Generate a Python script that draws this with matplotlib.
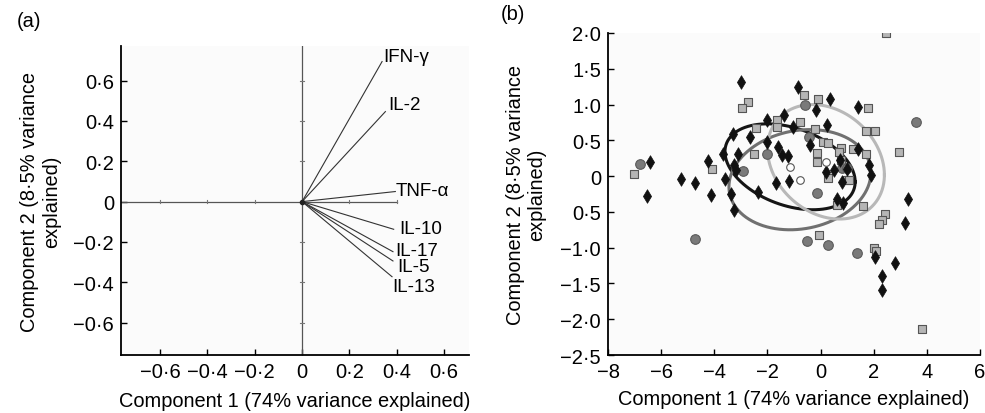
import numpy as np
import matplotlib.pyplot as plt

plt.rcParams['font.family'] = ['Liberation Sans', 'DejaVu Sans']

# Panel (a): loadings
cytokines = ['IFN-γ', 'IL-2', 'TNF-α', 'IL-10', 'IL-17', 'IL-5', 'IL-13']
load_c1 = [0.338, 0.352, 0.394, 0.387, 0.384, 0.384, 0.380]
load_c2 = [0.694, 0.446, 0.050, -0.137, -0.248, -0.294, -0.372]
# where the names sit
label_x = [0.342, 0.364, 0.397, 0.409, 0.392, 0.401, 0.383]
label_y = [0.72, 0.48, 0.055, -0.134, -0.243, -0.322, -0.421]

# Panel (b): scores, three groups
diam_x = [-3.0, -0.84, 0.35, 1.42, -0.19, -1.37, -2.0, 0.25, -3.29, -2.66, -1.03, -2.0,
          -1.62, -0.4, -1.47, -1.22, -3.69, -3.1, 1.42, -6.43, -4.23, -3.26, 1.82, 1.89,
          -5.24, -4.71, -3.6, -1.69, -1.19, 0.2, 0.5, 0.82, -6.53, -4.13, -3.39, -2.37,
          0.63, 0.83, -3.26, 3.27, 3.18, 2.05, 2.8, 2.3, 2.3, 0.73, 1.0, -3.2]
diam_y = [1.31, 1.24, 1.08, 0.96, 0.92, 0.86, 0.79, 0.72, 0.59, 0.55, 0.68, 0.47,
          0.40, 0.44, 0.30, 0.28, 0.31, 0.31, 0.38, 0.20, 0.21, 0.15, 0.15, 0.02,
          -0.04, -0.09, -0.04, -0.09, -0.07, 0.06, 0.08, -0.08, -0.28, -0.26, -0.25, -0.22,
          -0.32, -0.38, -0.47, -0.32, -0.65, -1.13, -1.22, -1.40, -1.59, 0.23, 0.1, 0.08]

sq_x = [2.46, -2.75, -2.95, -0.63, -0.09, 1.8, -1.63, -0.78, -1.66, -2.43, -0.21, 1.71,
        2.03, 0.1, 0.29, 0.76, 1.2, 1.7, -2.51, -0.15, -0.15, 0.69, 2.95, -4.07, -7.03,
        0.29, 0.98, 1.05, 0.6, 1.61, 2.43, 2.3, 2.2, -0.05, 2.01, 2.08, 3.81, 0.76]
sq_y = [2.0, 1.04, 0.95, 1.13, 1.08, 0.95, 0.79, 0.75, 0.68, 0.67, 0.66, 0.63,
        0.63, 0.47, 0.46, 0.39, 0.38, 0.31, 0.31, 0.32, 0.20, 0.33, 0.33, 0.10, 0.03,
        -0.02, -0.06, -0.06, -0.40, -0.42, -0.53, -0.61, -0.67, -0.82, -1.0, -1.04, -2.14, 0.22]

circ_x = [-0.59, 3.58, -0.42, -2.0, -6.81, -2.94, 0.82, 0.98, -0.12, -4.71, -0.5, 0.29, 1.38]
circ_y = [0.99, 0.76, 0.55, 0.31, 0.17, 0.07, 0.12, 0.12, -0.24, -0.88, -0.91, -0.96, -1.08]

# group means and spread for ellipses (black, mid grey, light grey)
mean_x = [-1.15, -0.78, 0.2]
mean_y = [0.13, -0.05, 0.2]
ell_sx = [2.45, 2.67, 2.2]
ell_sy = [0.6, 0.7, 0.8]
ell_rho = [-0.35, 0.14, -0.23]
ell_col = ['#151515', '#707070', '#b8b8b8']

fig = plt.figure(figsize=(9.85, 4.14), dpi=100)
ax1 = fig.add_axes([0.1228, 0.140, 0.3533, 0.746])
ax2 = fig.add_axes([0.6173, 0.140, 0.3777, 0.778])

fs = 14.4
tfs = 14.5


def fmt(v):
    if v == 0:
        return '0'
    return ('−' if v < 0 else '') + ('%.1f' % abs(v)).replace('.', '·')


# ---- panel (a)
ax1.set_facecolor('#fbfbfb')
ax1.set_xlim(-0.765, 0.705)
ax1.set_ylim(-0.76, 0.77)
ax1.axvline(0, color='#555555', lw=0.9)
ax1.plot([-0.765, 0.40], [0, 0], color='#555555', lw=0.9)
for t in [-0.6, -0.4, -0.2, 0.2, 0.4]:
    ax1.plot([t, t], [-0.008, 0.008], color='#777777', lw=0.8)
for t in [-0.6, -0.4, -0.2, 0.2, 0.4, 0.6]:
    ax1.plot([-0.008, 0.008], [t, t], color='#777777', lw=0.8)
for i, name in enumerate(cytokines):
    ax1.plot([0, load_c1[i]], [0, load_c2[i]], color='#333333', lw=0.8)
    ax1.text(label_x[i], label_y[i], name, fontsize=13.5, va='center', ha='left')
ax1.plot(0, 0, 'o', color='#222222', ms=3)
xt = [-0.6, -0.4, -0.2, 0, 0.2, 0.4, 0.6]
ax1.set_xticks(xt)
ax1.set_xticklabels([fmt(v) for v in xt])
yt = [-0.6, -0.4, -0.2, 0, 0.2, 0.4, 0.6]
ax1.set_yticks(yt)
ax1.set_yticklabels([fmt(v) for v in yt])
ax1.set_xlabel('Component 1 (74% variance explained)', fontsize=fs, labelpad=7)
ax1.set_ylabel('Component 2 (8·5% variance\nexplained)', fontsize=fs, labelpad=9)

# ---- panel (b)
ax2.set_facecolor('#fbfbfb')
ax2.set_xlim(-8, 6)
ax2.set_ylim(-2.5, 2.0)
tt = np.linspace(0, 2 * np.pi, 200)
for i in range(3):
    ex = mean_x[i] + ell_sx[i] * np.cos(tt)
    ey = mean_y[i] + ell_sy[i] * (ell_rho[i] * np.cos(tt) + np.sqrt(1 - ell_rho[i] ** 2) * np.sin(tt))
    ax2.plot(ex, ey, color=ell_col[i], lw=2.2, zorder=2)
ax2.scatter(sq_x, sq_y, marker='s', s=30, facecolor='#b5b5b5', edgecolor='#555555', lw=0.8, zorder=3)
ax2.scatter(circ_x, circ_y, marker='o', s=48, facecolor='#7a7a7a', edgecolor='#5a5a5a', lw=0.8, zorder=3)
ax2.scatter(diam_x, diam_y, marker='d', s=48, facecolor='#111111', edgecolor='#111111', lw=0.5, zorder=4)
ax2.scatter(mean_x, mean_y, marker='o', s=30, facecolor='white', edgecolor='#555555', lw=0.8, zorder=5)
ax2.set_xticks([-8, -6, -4, -2, 0, 2, 4, 6])
ax2.set_xticklabels(['−8', '−6', '−4', '−2', '0', '2', '4', '6'])
ax2.set_yticks([-2.5, -2.0, -1.5, -1.0, -0.5, 0, 0.5, 1.0, 1.5, 2.0])
ax2.set_yticklabels(['−2·5', '−2·0', '−1·5', '−1·0', '0·5', '0', '0·5', '1·0', '1·5', '2·0'])
ax2.set_xlabel('Component 1 (74% variance explained)', fontsize=fs, labelpad=6)
ax2.set_ylabel('Component 2 (8·5% variance\nexplained)', fontsize=fs, labelpad=10)

for ax in (ax1, ax2):
    ax.spines['top'].set_visible(False)
    ax.spines['right'].set_visible(False)
    ax.spines['left'].set_linewidth(1.3)
    ax.spines['bottom'].set_linewidth(1.3)
    ax.tick_params(labelsize=tfs, direction='in', length=4, width=1, pad=5)

fig.text(0.017, 0.935, '(a)', fontsize=fs)
fig.text(0.508, 0.952, '(b)', fontsize=fs)

fig.savefig('out.png', dpi=100)
